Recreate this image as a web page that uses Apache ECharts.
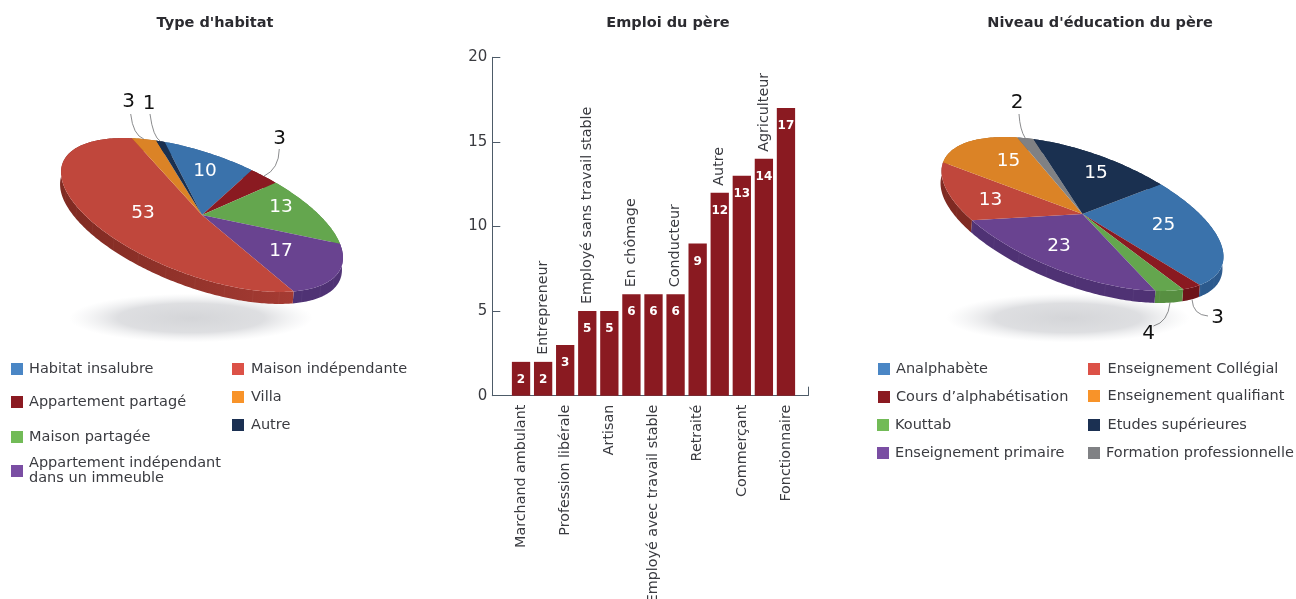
<!DOCTYPE html>
<html>
<head>
<meta charset="utf-8">
<style>
html, body { margin: 0; padding: 0; background: #fff; overflow: hidden; }
#main { width: 1296px; height: 599px; }
</style>
<script src="https://cdn.jsdelivr.net/npm/echarts@6/dist/echarts.min.js"></script>
</head>
<body>
<div id="main"></div>
<script>
// data, in clockwise slice order
var habitatNames = ['Habitat insalubre', 'Appartement partagé', 'Maison partagée', 'Appartement indépendant dans un immeuble', 'Maison indépendante', 'Villa', 'Autre'];
var habitatValues = [10, 3, 13, 17, 53, 3, 1];

var educationNames = ['Analphabète', 'Cours d’alphabétisation', 'Kouttab', 'Enseignement primaire', 'Enseignement Collégial', 'Enseignement qualifiant', 'Formation professionnelle', 'Etudes supérieures'];
var educationValues = [25, 3, 4, 23, 13, 15, 2, 15];

var jobNames = ['Marchand ambulant', 'Entrepreneur', 'Profession libérale', 'Employé sans travail stable', 'Artisan', 'En chômage', 'Employé avec travail stable', 'Conducteur', 'Retraité', 'Autre', 'Commerçant', 'Agriculteur', 'Fonctionnaire'];
var jobValues = [2, 2, 3, 5, 5, 6, 6, 6, 9, 12, 13, 14, 17];
var yTicks = [0, 5, 10, 15, 20];

// colours
var habitatColors = ['#3a72ab', '#8a1a21', '#64a64e', '#694390', '#c0473c', '#db8326', '#1a3050'];
var habitatSides = ['#2c5a8d', '#6d1319', '#578f41', '#4f3274', ['#7f2a22', '#a53b33'], '#a8651e', '#14253e'];
var habitatLegend = ['#4a86c5', '#8b1a21', '#72bb57', '#7a4ea3', '#dc5147', '#f89329', '#1b3052'];

var educationColors = ['#3a72ab', '#8a1a21', '#64a64e', '#694390', '#c0473c', '#db8326', '#808184', '#1a3050'];
var educationSides = ['#2c5a8d', '#6d1319', '#578f41', '#4f3274', '#7f2a22', '#a8651e', '#626366', '#14253e'];
var educationLegend = ['#4a86c5', '#8b1a21', '#72bb57', '#7a4ea3', '#dc5147', '#f89329', '#808184', '#1b3052'];

var FONT = '"DejaVu Sans", sans-serif';
var TEXT = '#3a3b40';

// tilted disc shared by both pies
var A = 148.7, B = 60.7, TILT = 20.4 * Math.PI / 180, DEPTH = 12;

function rim(cx, cy, deg) {
    var t = deg * Math.PI / 180;
    var u = A * Math.cos(t), v = B * Math.sin(t);
    return [cx + u * Math.cos(TILT) - v * Math.sin(TILT), cy + u * Math.sin(TILT) + v * Math.cos(TILT)];
}

function arcPoints(cx, cy, from, to) {
    var pts = [];
    var n = Math.ceil(to - from);
    for (var k = 0; k <= n; k++) {
        pts.push(rim(cx, cy, from + (to - from) * k / n));
    }
    return pts;
}

function sidePolygon(cx, cy, from, to) {
    var top = arcPoints(cx, cy, from, to);
    var bottom = top.map(function (p) { return [p[0] - 1, p[1] + DEPTH]; }).reverse();
    return top.concat(bottom);
}

// faint seams on the edge of the disc, every 12 degrees
function seams(cx, cy, from, to) {
    var out = [];
    for (var d = Math.ceil(from / 12) * 12; d < to; d += 12) {
        var p = rim(cx, cy, d);
        out.push({ type: 'line', z2: 1, shape: { x1: p[0], y1: p[1], x2: p[0] - 1, y2: p[1] + DEPTH }, style: { stroke: 'rgba(255,255,255,0.035)', lineWidth: 1 } });
    }
    return out;
}

// one custom series per slice, so that the legends can refer to them
function pieSeries(names, values, colors, sides, cfg) {
    var total = values.reduce(function (a, b) { return a + b; }, 0);
    var start = cfg.start;
    return names.map(function (name, i) {
        var from = start;
        var to = start + values[i] / total * 360;
        start = to;
        return {
            type: 'custom',
            name: name,
            coordinateSystem: 'none',
            itemStyle: { color: colors[i] },
            silent: true,
            data: [values[i]],
            renderItem: function () {
                var side = sides[i];
                var sideFill = Array.isArray(side)
                    ? new echarts.graphic.LinearGradient(0, 0, 1, 0, [{ offset: 0, color: side[0] }, { offset: 1, color: side[1] }])
                    : side;
                var kids = [
                    { type: 'polygon', z2: 1, shape: { points: sidePolygon(cfg.cx, cfg.cy, from, to) }, style: { fill: sideFill } }
                ].concat(seams(cfg.cx, cfg.cy, from, to));
                kids.push({ type: 'polygon', z2: 2, shape: { points: [[cfg.cx, cfg.cy]].concat(arcPoints(cfg.cx, cfg.cy, from, to)) }, style: { fill: colors[i] } });
                var lab = cfg.inside[i];
                if (lab) {
                    kids.push({ type: 'text', z2: 5, style: { x: cfg.cx + lab[0], y: cfg.cy + lab[1], text: String(values[i]), fill: '#fff', font: '18.5px ' + FONT, textAlign: 'center', textVerticalAlign: 'middle' } });
                }
                var out = cfg.outside[i];
                if (out) {
                    var a = rim(cfg.cx, cfg.cy, (from + to) / 2);
                    if (out.below) a = [a[0], a[1] + DEPTH];
                    kids.push({ type: 'bezierCurve', z2: 4, shape: { x1: a[0], y1: a[1], x2: out.end[0], y2: out.end[1], cpx1: out.ctrl[0], cpy1: out.ctrl[1] }, style: { stroke: '#6d6e71', lineWidth: 0.8, fill: 'none' } });
                    kids.push({ type: 'text', z2: 5, style: { x: out.text[0], y: out.text[1], text: String(values[i]), fill: '#111', font: '20px ' + FONT, textAlign: 'center', textVerticalAlign: 'middle' } });
                }
                return { type: 'group', children: kids };
            }
        };
    });
}

var habitatLayout = {
    cx: 202, cy: 215, start: -114,
    inside: [[3, -44], null, [79, -8], [79, 36], [-59, -2], null, null],
    outside: [null,
        { text: [279.5, 138.5], end: [279.3, 149], ctrl: [279, 169] },
        null, null, null,
        { text: [128.7, 102], end: [130.7, 114], ctrl: [133, 135] },
        { text: [149, 104], end: [150, 114], ctrl: [153, 137] }]
};

var educationLayout = {
    cx: 1082.5, cy: 214, start: -65,
    inside: [[81, 11], null, null, [-23.5, 32], [-92, -14], [-74, -53], null, [13.5, -41]],
    outside: [null,
        { text: [1217.5, 317.5], end: [1208, 316], ctrl: [1193, 315], below: true },
        { text: [1148.5, 333.5], end: [1153.5, 326], ctrl: [1168, 322], below: true },
        null, null, null,
        { text: [1017, 102.5], end: [1019, 114], ctrl: [1020, 130] },
        null]
};

// one legend per entry, the reference spaces them unevenly
function legendFor(names, colors, spots) {
    return names.map(function (name, i) {
        var two = name.indexOf(' dans ') > 0;
        return {
            left: spots[i][0],
            top: spots[i][1] - (two ? 9 : 1.5),
            padding: 0,
            itemWidth: 12,
            itemHeight: 12,
            selectedMode: false,
            textStyle: {
                color: TEXT, fontFamily: FONT, fontSize: 14.5, lineHeight: 15,
                padding: [0, 0, 0, spots[i][2] || 1]
            },
            formatter: function (n) { return n.replace(' dans ', '\ndans '); },
            data: [{ name: name, icon: 'rect', itemStyle: { color: colors[i] } }]
        };
    });
}

var habitatSpots = [[11, 363], [11, 396], [11, 431], [11, 465], [232, 363, 2], [232, 391, 2], [232, 419, 2]];
var educationSpots = [[878, 363], [878, 391], [877, 419], [877, 447], [1088, 363, 2.5], [1088, 390, 2.5], [1088, 447, 1], [1088, 419, 2.5]];

function titleAt(text, x) {
    return { text: text, left: x - 5, top: 11, textAlign: 'center', textStyle: { fontFamily: FONT, fontSize: 14.5, fontWeight: 'bold', color: '#2b2b30' } };
}

function shadow(cx) {
    return {
        type: 'circle', silent: true, z: 0,
        x: cx, y: 318, scaleY: 0.2,
        shape: { cx: 0, cy: 0, r: 122 },
        style: {
            fill: new echarts.graphic.RadialGradient(0.5, 0.5, 0.5, [
                { offset: 0, color: 'rgba(212,213,216,1)' },
                { offset: 0.6, color: 'rgba(216,217,220,0.85)' },
                { offset: 1, color: 'rgba(232,233,235,0)' }
            ])
        }
    };
}

var axisColor = '#4d5b68';

var option = {
    animation: false,
    backgroundColor: '#fff',
    title: [titleAt("Type d'habitat", 215), titleAt('Emploi du père', 668), titleAt("Niveau d'éducation du père", 1100)],
    legend: legendFor(habitatNames, habitatLegend, habitatSpots).concat(legendFor(educationNames, educationLegend, educationSpots)),
    graphic: [shadow(191), shadow(1068)],
    grid: [
        // the longest rotated label runs to the page edge, the grid must not shrink for it
        { left: 510, width: 287, top: 57.3, height: 338.4, outerBoundsMode: 'none' },
        { left: 492.3, width: 316, top: 57.3, height: 338.4, outerBoundsMode: 'none' }
    ],
    xAxis: [
        {
            type: 'category', gridIndex: 0, data: jobNames,
            axisLine: { show: false }, axisTick: { show: false },
            axisLabel: {
                interval: 0, rotate: 90, margin: 9, color: TEXT, fontFamily: FONT, fontSize: 14.3,
                formatter: function (v, i) { return i % 2 === 0 ? v : ''; }
            }
        },
        {
            type: 'value', gridIndex: 1, min: 0, max: 1, interval: 1,
            axisLine: { show: true, lineStyle: { color: axisColor } },
            axisTick: { show: true, inside: true, length: 9, lineStyle: { color: axisColor } },
            axisLabel: { show: false }, splitLine: { show: false }
        }
    ],
    yAxis: [
        { type: 'value', gridIndex: 0, min: 0, max: 20, show: false },
        {
            type: 'value', gridIndex: 1, min: 0, max: 20, interval: yTicks[1],
            axisLine: { show: true, lineStyle: { color: axisColor } },
            axisTick: { show: true, inside: true, length: 8, lineStyle: { color: axisColor } },
            axisLabel: { margin: 5, color: TEXT, fontFamily: FONT, fontSize: 15, padding: [3, 0, 0, 0] },
            splitLine: { show: false }
        }
    ],
    series: pieSeries(habitatNames, habitatValues, habitatColors, habitatSides, habitatLayout)
        .concat(pieSeries(educationNames, educationValues, educationColors, educationSides, educationLayout))
        .concat([
            {
                type: 'bar', name: 'Emploi du père', xAxisIndex: 0, yAxisIndex: 0,
                data: jobValues, barWidth: 18.3, itemStyle: { color: '#8a1a21' },
                label: {
                    show: true, position: 'insideTop', distance: 12, color: '#fff',
                    fontFamily: FONT, fontSize: 12, fontWeight: 'bold'
                }
            },
            {
                // every second category is written above its bar
                type: 'scatter', name: 'Emploi du père (noms)', xAxisIndex: 0, yAxisIndex: 0,
                symbolSize: 0, silent: true, itemStyle: { opacity: 1 },
                data: jobValues.map(function (v, i) { return i % 2 === 1 ? v : '-'; }),
                label: {
                    show: true, position: 'top', distance: 7, rotate: 90, align: 'left', verticalAlign: 'middle',
                    color: TEXT, fontFamily: FONT, fontSize: 14.3,
                    formatter: function (p) { return jobNames[p.dataIndex]; }
                }
            }
        ])
};

var myChart = echarts.init(document.getElementById('main'));
myChart.setOption(option);
</script>
</body>
</html>
